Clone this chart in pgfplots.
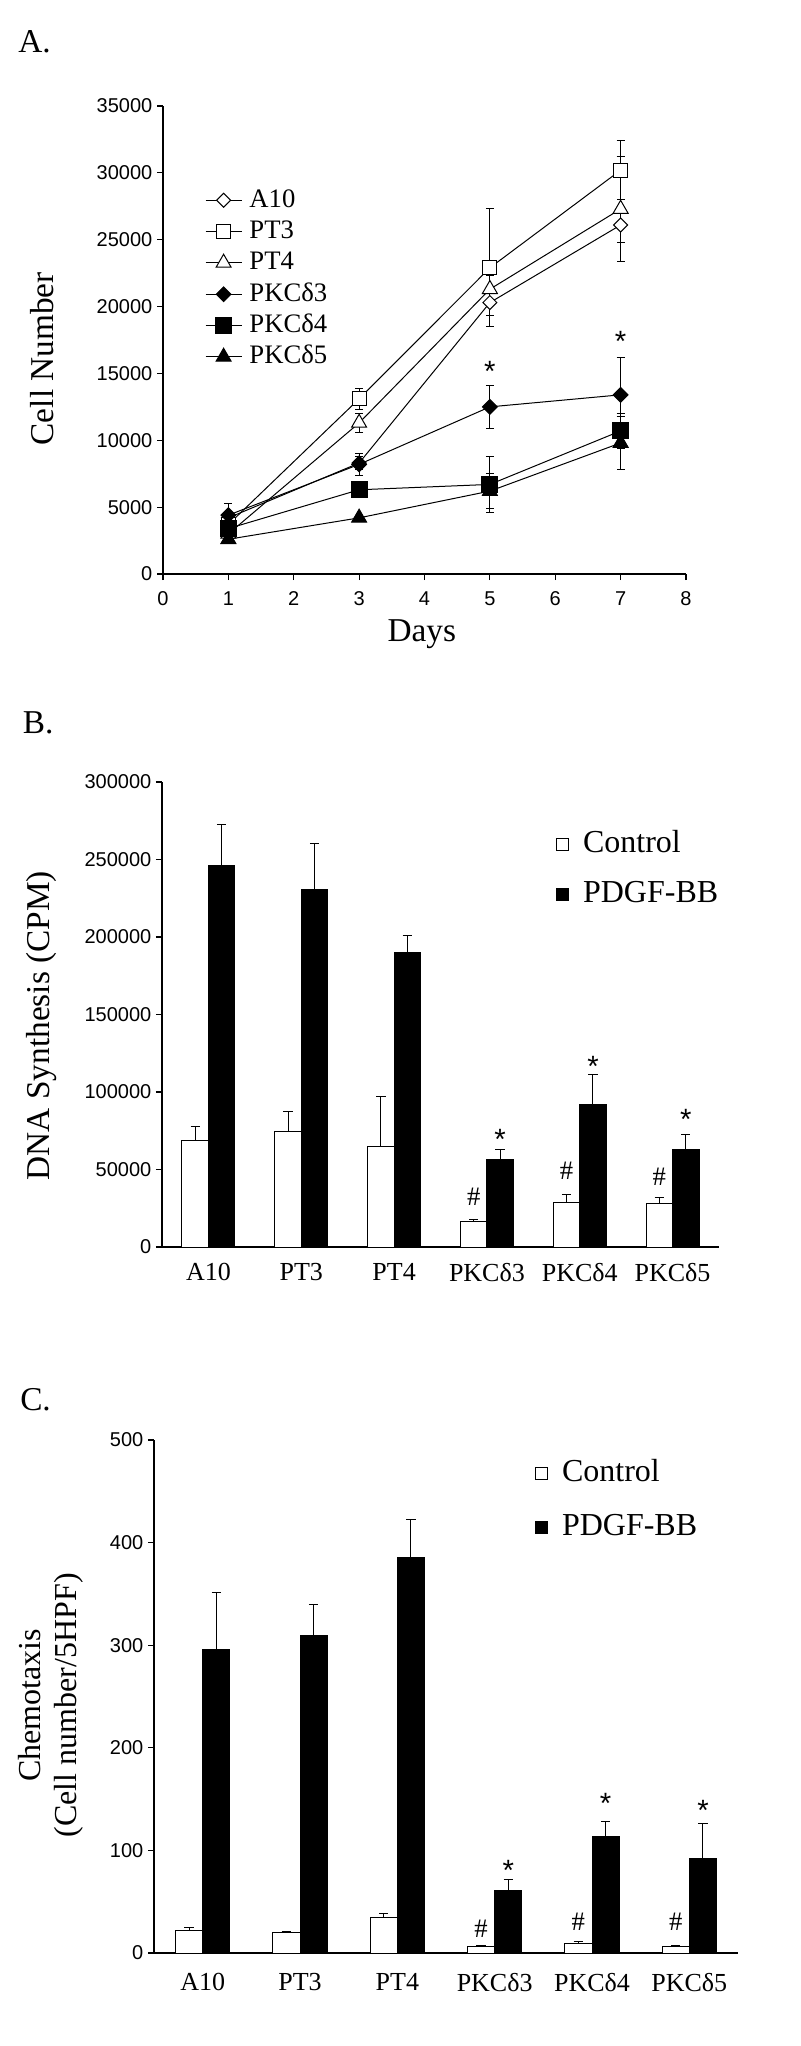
\documentclass[border=0pt]{standalone}
\usepackage{pgfplots}
\pgfplotsset{compat=1.18}
\usepackage{fontspec}
\setmainfont{Liberation Serif}
\newfontfamily\arial{Liberation Sans}

\tikzset{
  starnode/.style={font=\arial\fontsize{22}{24}\selectfont, yshift=-4pt},
  hashnode/.style={font=\fontsize{20}{22}\selectfont},
}
\pgfplotsset{
  panel/.style={
    scale only axis,
    axis x line=bottom, axis y line=left,
    axis line style={-, line width=1.1pt},
    tick align=outside,
    major tick length=4.5pt,
    tick style={line width=0.9pt, black},
    scaled ticks=false,
    enlargelimits=false,
    clip=false,
    ticklabel style={font=\arial\fontsize{15}{18}\selectfont},
    /pgf/number format/assume math mode=true,
    /pgf/number format/fixed,
    /pgf/number format/precision=0,
    /pgf/number format/1000 sep={},
    label style={font=\fontsize{25}{30}\selectfont},
  },
  barpanel/.style={
    panel,
    xmin=-0.5, xmax=5.5, ymin=0,
    xtick={0,...,5},
    xticklabels={A10,PT3,PT4,PKCδ3,PKCδ4,PKCδ5},
    x tick style={draw=none},
    legend cell align=left,
  },
  ctrlleg/.style={legend image code/.code={\draw[fill=white,draw=black,line width=0.75pt] (0pt,-4.5pt) rectangle (9pt,4.5pt);}},
  pdgfleg/.style={legend image code/.code={\draw[fill=black,draw=black,line width=0.75pt] (0pt,-4.5pt) rectangle (9pt,4.5pt);}},
  linebars/.style={error bars/.cd, y dir=both, y explicit,
    error bar style={line width=0.75pt},
    error mark options={rotate=90, mark size=3pt, line width=0.75pt}},
  barbars/.style={error bars/.cd, y dir=plus, y explicit,
    error bar style={line width=0.75pt, black},
    error mark options={rotate=90, mark size=3.5pt, line width=0.75pt, black}},
}

\begin{document}
\begin{tikzpicture}
\fill[white] (0,0) rectangle (600pt,-1534.5pt);
\useasboundingbox (0,0) rectangle (600pt,-1534.5pt);

\node[anchor=base west, inner sep=0pt, font=\fontsize{25}{30}\selectfont] at (13.5pt,-39pt) {A.};
\node[anchor=base west, inner sep=0pt, font=\fontsize{25}{30}\selectfont] at (17pt,-549.75pt) {B.};
\node[anchor=base west, inner sep=0pt, font=\fontsize{25}{30}\selectfont] at (15pt,-1057.5pt) {C.};

% ---------------- A: cell number
\begin{axis}[panel,
  at={(122.25pt,-430.5pt)}, anchor=south west,
  width=392.25pt, height=351pt,
  xmin=0, xmax=8, ymin=0, ymax=35000,
  xtick={0,...,8}, ytick={0,5000,...,35000},
  xticklabel style={yshift=-5pt},
  xlabel={Days}, ylabel={Cell Number},
  xlabel style={at={(axis description cs:0.495,0)}, anchor=center, yshift=-45pt},
  ylabel style={at={(axis description cs:-0.231,0.46)}, anchor=center},
  every axis plot/.append style={black, line width=0.75pt},
  legend cell align=left,
  legend style={at={(axis description cs:0.08,0.827)}, anchor=north west,
    draw=none, fill=none, inner sep=0pt, row sep=4pt, column sep=4pt,
    font=\fontsize{20}{22}\selectfont,
    nodes={inner sep=1.5pt, text height=13.5pt, text depth=3pt}},
  legend image code/.code={\draw[mark repeat=2,mark phase=2,#1] plot coordinates {(0pt,0pt) (13.5pt,0pt) (27pt,0pt)};},
]
\addplot[mark=square*, mark size=3.7pt, mark options={rotate=45, fill=white}, linebars]
  coordinates {(1,4200) +- (0,500) (3,8300) +- (0,500) (5,20300) +- (0,1000) (7,26100) +- (0,1300)};
\addlegendentry{A10}
\addplot[mark=square*, mark size=5.2pt, mark options={fill=white}, linebars]
  coordinates {(1,3700) +- (0,400) (3,13100) +- (0,800) (5,22900) +- (0,4400) (7,30200) +- (0,2200)};
\addlegendentry{PT3}
\addplot[mark=triangle*, mark size=6.5pt, mark options={fill=white}, linebars]
  coordinates {(1,3000) +- (0,300) (3,11300) +- (0,700) (5,21300) +- (0,1000) (7,27300) +- (0,3900)};
\addlegendentry{PT4}
\addplot[mark=square*, mark size=3.9pt, mark options={rotate=45, fill=black}, linebars]
  coordinates {(1,4400) +- (0,900) (3,8200) +- (0,800) (5,12500) +- (0,1600) (7,13400) +- (0,2800)};
\addlegendentry{PKCδ3}
\addplot[mark=square*, mark size=6pt, mark options={fill=black}, linebars]
  coordinates {(1,3400) +- (0,400) (3,6300) +- (0,300) (5,6700) +- (0,2100) (7,10700) +- (0,1300)};
\addlegendentry{PKCδ4}
\addplot[mark=triangle*, mark size=6.5pt, mark options={fill=black}, linebars]
  coordinates {(1,2600) +- (0,300) (3,4200) +- (0,200) (5,6200) +- (0,1300) (7,9800) +- (0,1950)};
\addlegendentry{PKCδ5}
\node[starnode] at (axis cs:5,15556) {*};
\node[starnode] at (axis cs:7,17800) {*};
\end{axis}

% ---------------- B: DNA synthesis
\begin{axis}[barpanel,
  at={(121.5pt,-935.25pt)}, anchor=south west,
  width=417.75pt, height=348.75pt,
  ymax=300000, ytick={0,50000,...,300000},
  xticklabel style={font=\fontsize{19.5}{22}\selectfont, yshift=-4pt},
  ylabel={DNA Synthesis (CPM)},
  ylabel style={at={(axis description cs:-0.217,0.476)}, anchor=center},
  legend style={at={(axis description cs:0.707,0.903)}, anchor=north west,
    draw=none, fill=none, inner sep=0pt, row sep=13pt, column sep=9pt,
    font=\fontsize{24}{28}\selectfont,
    nodes={inner sep=1.5pt, text height=17pt, text depth=5pt}},
]
\addplot[ybar, bar width=0.285, bar shift=0pt, x filter/.expression={x-0.1425},
  fill=white, draw=black, line width=0.75pt, ctrlleg, barbars]
  coordinates {(0,68700) +- (0,9000) (1,74300) +- (0,13200) (2,65000) +- (0,32300)
               (3,16300) +- (0,1400) (4,28900) +- (0,5300) (5,27800) +- (0,3900)};
\addlegendentry{Control}
\addplot[ybar, bar width=0.285, bar shift=0pt, x filter/.expression={x+0.1425},
  fill=black, draw=black, line width=0.75pt, pdgfleg, barbars]
  coordinates {(0,246200) +- (0,26600) (1,230500) +- (0,30000) (2,190100) +- (0,11200)
               (3,56600) +- (0,6200) (4,91700) +- (0,19300) (5,62800) +- (0,10100)};
\addlegendentry{PDGF-BB}
\node[starnode] at (axis cs:3.1425,73060) {*};
\node[starnode] at (axis cs:4.1425,120260) {*};
\node[starnode] at (axis cs:5.1425,86000) {*};
\node[hashnode] at (axis cs:2.8575,32330) {\#};
\node[hashnode] at (axis cs:3.8575,49140) {\#};
\node[hashnode] at (axis cs:4.8575,45260) {\#};
\end{axis}

% ---------------- C: chemotaxis
\begin{axis}[barpanel,
  at={(115.5pt,-1464.75pt)}, anchor=south west,
  width=438pt, height=384.75pt,
  ymax=500, ytick={0,100,...,500},
  xticklabel style={font=\fontsize{19.5}{22}\selectfont, yshift=-7pt},
  ylabel={Chemotaxis\\(Cell number/5HPF)},
  ylabel style={at={(axis description cs:-0.176,0.483)}, anchor=center, align=center,
    font=\fontsize{24}{27}\selectfont},
  legend style={at={(axis description cs:0.652,0.967)}, anchor=north west,
    draw=none, fill=none, inner sep=0pt, row sep=15.5pt, column sep=9pt,
    font=\fontsize{24}{28}\selectfont,
    nodes={inner sep=1.5pt, text height=17pt, text depth=5pt}},
]
\addplot[ybar, bar width=0.28, bar shift=0pt, x filter/.expression={x-0.14},
  fill=white, draw=black, line width=0.75pt, ctrlleg, barbars]
  coordinates {(0,21.9) +- (0,2.5) (1,20.2) +- (0,0.8) (2,35.1) +- (0,3.3)
               (3,6.2) +- (0,0.8) (4,9.1) +- (0,2.1) (5,6.2) +- (0,0.8)};
\addlegendentry{Control}
\addplot[ybar, bar width=0.28, bar shift=0pt, x filter/.expression={x+0.14},
  fill=black, draw=black, line width=0.75pt, pdgfleg, barbars]
  coordinates {(0,295.9) +- (0,55.3) (1,309.9) +- (0,30.1) (2,385.1) +- (0,37.2)
               (3,61.2) +- (0,10.7) (4,113.2) +- (0,14.9) (5,92.6) +- (0,33.4)};
\addlegendentry{PDGF-BB}
\node[starnode] at (axis cs:3.14,85.8) {*};
\node[starnode] at (axis cs:4.14,151.1) {*};
\node[starnode] at (axis cs:5.14,144.3) {*};
\node[hashnode] at (axis cs:2.86,23.4) {\#};
\node[hashnode] at (axis cs:3.86,30.2) {\#};
\node[hashnode] at (axis cs:4.86,30.2) {\#};
\end{axis}
\end{tikzpicture}
\end{document}
